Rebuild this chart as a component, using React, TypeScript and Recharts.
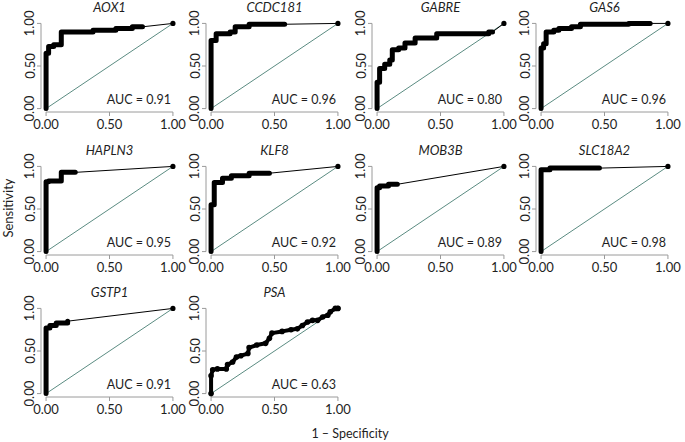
import React from "react";
import { ComposedChart, Line, XAxis, YAxis, ReferenceLine, Scatter } from "recharts";

type P = { x: number; y: number };

// Gene names (panel titles), in reading order
const genes = ["AOX1", "CCDC181", "GABRE", "GAS6", "HAPLN3", "KLF8", "MOB3B", "SLC18A2", "GSTP1", "PSA"];
const aucValues = ["0.91", "0.96", "0.80", "0.96", "0.95", "0.92", "0.89", "0.98", "0.91", "0.63"];
const axisTicks = [0, 0.5, 1];
const tickLabels = ["0.00", "0.50", "1.00"];

// ROC curves (1 - specificity, sensitivity)
const aox1: P[] = [
  { x: 0, y: 0 }, { x: 0, y: 0.65 }, { x: 0.02, y: 0.65 }, { x: 0.02, y: 0.73 }, { x: 0.06, y: 0.73 },
  { x: 0.06, y: 0.75 }, { x: 0.12, y: 0.75 }, { x: 0.12, y: 0.9 }, { x: 0.37, y: 0.9 }, { x: 0.37, y: 0.92 },
  { x: 0.55, y: 0.92 }, { x: 0.55, y: 0.94 }, { x: 0.68, y: 0.94 }, { x: 0.68, y: 0.96 }, { x: 0.76, y: 0.96 },
];
const ccdc181: P[] = [
  { x: 0, y: 0 }, { x: 0, y: 0.8 }, { x: 0.04, y: 0.8 }, { x: 0.04, y: 0.88 }, { x: 0.15, y: 0.88 },
  { x: 0.15, y: 0.9 }, { x: 0.19, y: 0.9 }, { x: 0.19, y: 0.96 }, { x: 0.3, y: 0.96 }, { x: 0.3, y: 0.99 },
  { x: 0.58, y: 0.99 },
];
const gabre: P[] = [
  { x: 0, y: 0 }, { x: 0, y: 0.31 }, { x: 0.02, y: 0.31 }, { x: 0.02, y: 0.47 }, { x: 0.06, y: 0.47 },
  { x: 0.06, y: 0.52 }, { x: 0.1, y: 0.52 }, { x: 0.1, y: 0.57 }, { x: 0.12, y: 0.57 }, { x: 0.12, y: 0.69 },
  { x: 0.17, y: 0.69 }, { x: 0.17, y: 0.71 }, { x: 0.22, y: 0.71 }, { x: 0.22, y: 0.77 }, { x: 0.3, y: 0.77 },
  { x: 0.3, y: 0.83 }, { x: 0.47, y: 0.83 }, { x: 0.47, y: 0.88 }, { x: 0.88, y: 0.88 }, { x: 0.88, y: 0.9 },
  { x: 0.91, y: 0.9 },
];
const gas6: P[] = [
  { x: 0, y: 0 }, { x: 0, y: 0.71 }, { x: 0.02, y: 0.71 }, { x: 0.02, y: 0.76 }, { x: 0.04, y: 0.76 },
  { x: 0.04, y: 0.9 }, { x: 0.1, y: 0.9 }, { x: 0.1, y: 0.92 }, { x: 0.14, y: 0.92 }, { x: 0.14, y: 0.94 },
  { x: 0.24, y: 0.94 }, { x: 0.24, y: 0.96 }, { x: 0.31, y: 0.96 }, { x: 0.31, y: 0.99 }, { x: 0.69, y: 0.99 },
  { x: 0.69, y: 1.0 }, { x: 0.86, y: 1.0 },
];
const hapln3: P[] = [
  { x: 0, y: 0 }, { x: 0, y: 0.82 }, { x: 0.02, y: 0.82 }, { x: 0.02, y: 0.83 }, { x: 0.12, y: 0.83 },
  { x: 0.12, y: 0.93 }, { x: 0.23, y: 0.93 },
];
const klf8: P[] = [
  { x: 0, y: 0 }, { x: 0, y: 0.55 }, { x: 0.025, y: 0.55 }, { x: 0.025, y: 0.81 }, { x: 0.09, y: 0.81 },
  { x: 0.09, y: 0.86 }, { x: 0.16, y: 0.86 }, { x: 0.16, y: 0.89 }, { x: 0.3, y: 0.89 }, { x: 0.3, y: 0.92 },
  { x: 0.46, y: 0.92 },
];
const mob3b: P[] = [
  { x: 0, y: 0 }, { x: 0, y: 0.75 }, { x: 0.02, y: 0.75 }, { x: 0.02, y: 0.77 }, { x: 0.09, y: 0.77 },
  { x: 0.09, y: 0.79 }, { x: 0.16, y: 0.79 },
];
const slc18a2: P[] = [
  { x: 0, y: 0 }, { x: 0, y: 0.96 }, { x: 0.07, y: 0.96 }, { x: 0.07, y: 0.98 }, { x: 0.46, y: 0.98 },
];
const gstp1: P[] = [
  { x: 0, y: 0 }, { x: 0, y: 0.77 }, { x: 0.03, y: 0.77 }, { x: 0.03, y: 0.8 }, { x: 0.08, y: 0.8 },
  { x: 0.08, y: 0.83 }, { x: 0.17, y: 0.83 }, { x: 0.17, y: 0.85 },
];
const psa: P[] = [
  { x: 0, y: 0 }, { x: 0, y: 0.21 }, { x: 0.013, y: 0.28 }, { x: 0.05, y: 0.29 }, { x: 0.12, y: 0.29 },
  { x: 0.13, y: 0.34 }, { x: 0.17, y: 0.37 }, { x: 0.2, y: 0.43 }, { x: 0.235, y: 0.445 }, { x: 0.29, y: 0.47 },
  { x: 0.3, y: 0.54 }, { x: 0.36, y: 0.57 }, { x: 0.43, y: 0.59 }, { x: 0.46, y: 0.65 }, { x: 0.48, y: 0.71 },
  { x: 0.56, y: 0.73 }, { x: 0.63, y: 0.75 }, { x: 0.68, y: 0.76 }, { x: 0.72, y: 0.8 }, { x: 0.76, y: 0.84 },
  { x: 0.8, y: 0.86 }, { x: 0.84, y: 0.86 }, { x: 0.88, y: 0.9 }, { x: 0.92, y: 0.92 }, { x: 0.94, y: 0.96 },
  { x: 0.98, y: 1.0 }, { x: 1.0, y: 1.0 },
];

const curves: P[][] = [aox1, ccdc181, gabre, gas6, hapln3, klf8, mob3b, slc18a2, gstp1, psa];
const endPoint: P = { x: 1, y: 1 };
const diagonal: P[] = [{ x: 0, y: 0 }, { x: 1, y: 1 }];

// layout
const colLeft = [41, 206, 372, 536]; // left edge of plot region
const rowTop = [20.3, 163.3, 304.9]; // top edge of plot region
const RW = 137;
const RH = 92;
const ML = 40;
const MT = 20;
const MR = 14;
const MB = 30;
const FONT = "Lato, 'Open Sans', sans-serif";
const AXIS_COLOR = "#9a9a9a";
const TEXT_COLOR = "#1e1e1e";
const DIAG_COLOR = "#5b8c82";
const LO = -0.04;
const HI = 1.04;

const YTick = (props: any) => {
  const { x, y, payload } = props;
  const idx = axisTicks.indexOf(payload.value);
  const bx = x - 0.5;
  return (
    <text
      x={bx}
      y={y}
      transform={`rotate(-90 ${bx} ${y})`}
      textAnchor="middle"
      fill={TEXT_COLOR}
      fontSize={13}
      fontFamily={FONT}
    >
      {tickLabels[idx]}
    </text>
  );
};

const XTick = (props: any) => {
  const { x, y, payload } = props;
  const idx = axisTicks.indexOf(payload.value);
  return (
    <text x={x} y={y + 10.5} textAnchor="middle" fill={TEXT_COLOR} fontSize={13} fontFamily={FONT}>
      {tickLabels[idx]}
    </text>
  );
};

const Panel = ({ i }: { i: number }) => {
  const col = i % 4;
  const row = Math.floor(i / 4);
  const left = colLeft[col] - ML;
  const top = rowTop[row] - MT;
  const curve = curves[i];
  const last = curve[curve.length - 1];
  const tail = [last, endPoint];
  const isPsa = genes[i] === "PSA";
  return (
    <div style={{ position: "absolute", left, top, width: RW + ML + MR, height: RH + MT + MB }}>
      <div
        style={{
          position: "absolute",
          left: ML,
          width: RW,
          top: MT - 20,
          textAlign: "center",
          fontFamily: FONT,
          fontStyle: "italic",
          fontSize: 13,
          color: TEXT_COLOR,
          lineHeight: "14px",
        }}
      >
        {genes[i]}
      </div>
      <ComposedChart
        width={RW + ML + MR}
        height={RH + MT + MB}
        margin={{ top: MT, right: MR, bottom: 0, left: 0 }}
      >
        <XAxis
          type="number"
          dataKey="x"
          domain={[LO, HI]}
          ticks={axisTicks}
          allowDataOverflow
          axisLine={false}
          tickLine={{ stroke: AXIS_COLOR }}
          tickSize={4}
          tick={<XTick />}
          height={MB}
        />
        <YAxis
          type="number"
          dataKey="y"
          domain={[LO, HI]}
          ticks={axisTicks}
          allowDataOverflow
          axisLine={false}
          tickLine={{ stroke: AXIS_COLOR }}
          tickSize={4}
          tick={<YTick />}
          width={ML}
        />
        <ReferenceLine
          segment={[{ x: 0, y: LO }, { x: 1, y: LO }]}
          stroke={AXIS_COLOR}
          strokeWidth={1}
          ifOverflow="visible"
        />
        <ReferenceLine
          segment={[{ x: LO, y: 0 }, { x: LO, y: 1 }]}
          stroke={AXIS_COLOR}
          strokeWidth={1}
          ifOverflow="visible"
        />
        <Line
          data={diagonal}
          dataKey="y"
          stroke={DIAG_COLOR}
          strokeWidth={1}
          dot={false}
          isAnimationActive={false}
        />
        <Line
          data={tail}
          dataKey="y"
          stroke="#000"
          strokeWidth={1}
          dot={false}
          isAnimationActive={false}
        />
        <Scatter
          data={[endPoint]}
          fill="#000"
          shape={(p: any) => <circle cx={p.cx} cy={p.cy} r={2.6} fill="#000" />}
          isAnimationActive={false}
        />
        <Line
          data={curve}
          dataKey="y"
          stroke="#000"
          strokeWidth={isPsa ? 4 : 5}
          strokeLinejoin="round"
          strokeLinecap="round"
          dot={isPsa ? { r: 2.8, fill: "#000", stroke: "none" } : false}
          isAnimationActive={false}
        />
      </ComposedChart>
      <div
        style={{
          position: "absolute",
          right: MR + 7,
          top: MT + RH - 19,
          fontFamily: FONT,
          fontSize: 12.5,
          color: TEXT_COLOR,
          lineHeight: "14px",
          whiteSpace: "nowrap",
        }}
      >
        {`AUC = ${aucValues[i]}`}
      </div>
    </div>
  );
};

export default function App() {
  return (
    <div
      style={{
        position: "absolute",
        left: 0,
        top: 0,
        width: 685,
        height: 442,
        background: "#fff",
        overflow: "hidden",
      }}
    >
      {genes.map((g, i) => (
        <Panel key={g} i={i} />
      ))}
      <div
        style={{
          position: "absolute",
          left: 8,
          top: 208,
          transform: "translate(-50%, -50%) rotate(-90deg)",
          fontFamily: FONT,
          fontSize: 13,
          color: TEXT_COLOR,
          whiteSpace: "nowrap",
        }}
      >
        Sensitivity
      </div>
      <div
        style={{
          position: "absolute",
          left: 350,
          top: 433,
          transform: "translate(-50%, -50%)",
          fontFamily: FONT,
          fontSize: 12.5,
          color: TEXT_COLOR,
          whiteSpace: "nowrap",
        }}
      >
        1 – Specificity
      </div>
    </div>
  );
}
